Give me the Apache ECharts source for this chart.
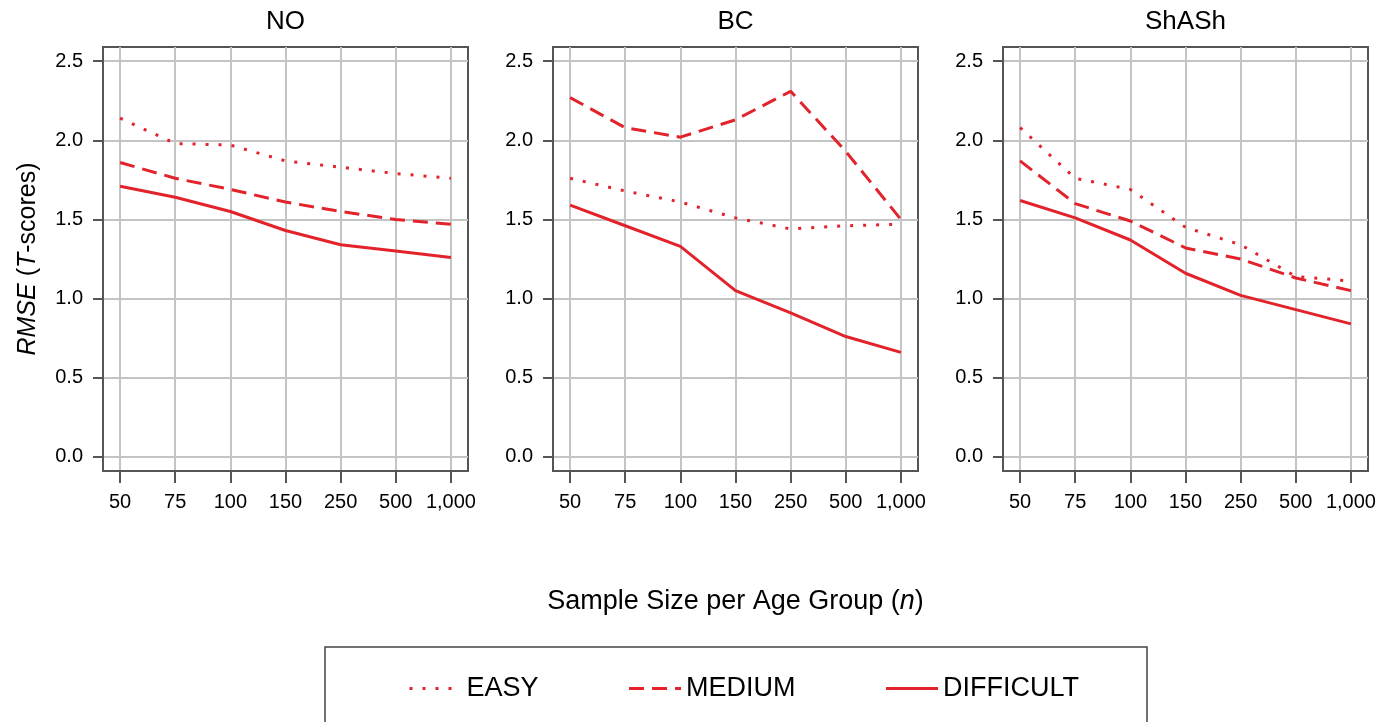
<!DOCTYPE html>
<html>
<head>
<meta charset="utf-8">
<script src="https://cdn.jsdelivr.net/npm/echarts@6/dist/echarts.min.js"></script>
<style>
html,body{margin:0;padding:0;background:#fff;}
#chart{width:1395px;height:722px;}
</style>
</head>
<body>
<div id="chart"></div>
<script>
// ---- data ----
const categories = ['50', '75', '100', '150', '250', '500', '1,000'];
const panels = ['NO', 'BC', 'ShASh'];
const levels = ['EASY', 'MEDIUM', 'DIFFICULT'];
const yTicks = [0, 0.5, 1.0, 1.5, 2.0, 2.5];

const noEasy      = [2.14, 1.98, 1.97, 1.87, 1.83, 1.79, 1.76];
const noMedium    = [1.86, 1.76, 1.69, 1.61, 1.55, 1.50, 1.47];
const noDifficult = [1.71, 1.64, 1.55, 1.43, 1.34, 1.30, 1.26];

const bcEasy      = [1.76, 1.68, 1.61, 1.51, 1.44, 1.46, 1.47];
const bcMedium    = [2.27, 2.08, 2.02, 2.13, 2.31, 1.93, 1.50];
const bcDifficult = [1.59, 1.46, 1.33, 1.05, 0.91, 0.76, 0.66];

const shEasy      = [2.08, 1.76, 1.69, 1.45, 1.34, 1.14, 1.11];
const shMedium    = [1.87, 1.60, 1.49, 1.32, 1.25, 1.13, 1.05];
const shDifficult = [1.62, 1.51, 1.37, 1.16, 1.02, 0.93, 0.84];

const panelData = [
  [noEasy, noMedium, noDifficult],
  [bcEasy, bcMedium, bcDifficult],
  [shEasy, shMedium, shDifficult]
];

// ---- styles / layout ----
const FONT = "'Liberation Sans', Arial, Helvetica, sans-serif";
const RED = '#e2232b';
const lineTypes = [[3, 10], [15, 8], 'solid'];
const gridLefts = [103, 553, 1003];
const GRID_W = 365, GRID_TOP = 47, GRID_H = 424;
const xIdx = categories.map((c, i) => i);

const grids = [], xAxes = [], yAxes = [], series = [], titles = [];
panels.forEach((p, k) => {
  grids.push({
    left: gridLefts[k], top: GRID_TOP, width: GRID_W, height: GRID_H,
    show: true, borderColor: '#555', borderWidth: 2, backgroundColor: 'transparent'
  });
  titles.push({
    text: p, left: gridLefts[k] + GRID_W / 2, top: 9, padding: 0, textAlign: 'center',
    textStyle: { fontFamily: FONT, fontSize: 26, fontWeight: 'normal', color: '#000' }
  });
  xAxes.push({
    gridIndex: k, type: 'value', min: -0.31, max: 6.31,
    axisLine: { show: true, onZero: false, lineStyle: { color: '#555', width: 2 } },
    axisTick: { show: true, customValues: xIdx, length: 12, lineStyle: { color: '#555', width: 2 } },
    axisLabel: {
      customValues: xIdx, margin: 21, fontFamily: FONT, fontSize: 20, color: '#000',
      formatter: v => categories[Math.round(v)]
    },
    splitLine: { show: true, lineStyle: { color: '#c4c4c4', width: 2 } },
    name: k === 1 ? 'Sample Size per Age Group ({i|n})' : '',
    nameLocation: 'middle', nameGap: 117,
    nameTextStyle: {
      fontFamily: FONT, fontSize: 27, color: '#000',
      rich: { i: { fontFamily: FONT, fontSize: 27, fontStyle: 'italic', color: '#000' } }
    }
  });
  yAxes.push({
    gridIndex: k, type: 'value', min: -0.09, max: 2.59,
    axisLine: { show: true, onZero: false, lineStyle: { color: '#555', width: 2 } },
    axisTick: { show: true, customValues: yTicks, length: 10, lineStyle: { color: '#555', width: 2 } },
    axisLabel: {
      customValues: yTicks, margin: 20, fontFamily: FONT, fontSize: 20, color: '#000',
      formatter: v => v.toFixed(1)
    },
    splitLine: { show: true, lineStyle: { color: '#c4c4c4', width: 2 } },
    name: k === 0 ? '{i|RMSE} ({i|T}-scores)' : '',
    nameLocation: 'middle', nameGap: 62, nameRotate: 90,
    nameTextStyle: {
      fontFamily: FONT, fontSize: 25, color: '#000',
      rich: { i: { fontFamily: FONT, fontSize: 25, fontStyle: 'italic', color: '#000' } }
    }
  });
  levels.forEach((lv, j) => {
    series.push({
      name: lv, type: 'line', xAxisIndex: k, yAxisIndex: k,
      data: panelData[k][j].map((v, i) => [xIdx[i], v]),
      symbol: 'none', smooth: false, animation: false,
      lineStyle: { color: RED, width: 3, type: lineTypes[j] },
      itemStyle: { color: RED }
    });
  });
});

const chart = echarts.init(document.getElementById('chart'), null, { renderer: 'canvas' });
chart.setOption({
  animation: false,
  backgroundColor: '#fff',
  title: titles,
  grid: grids,
  xAxis: xAxes,
  yAxis: yAxes,
  legend: {
    data: levels,
    left: 325, top: 647,
    padding: [28, 68, 80, 83],
    itemWidth: 52, itemHeight: 14, itemGap: 89,
    borderColor: '#444', borderWidth: 1.5,
    itemStyle: { opacity: 0 },
    lineStyle: { width: 3 },
    textStyle: { fontFamily: FONT, fontSize: 27, color: '#000' },
    selectedMode: false
  },
  series: series
});
</script>
</body>
</html>
